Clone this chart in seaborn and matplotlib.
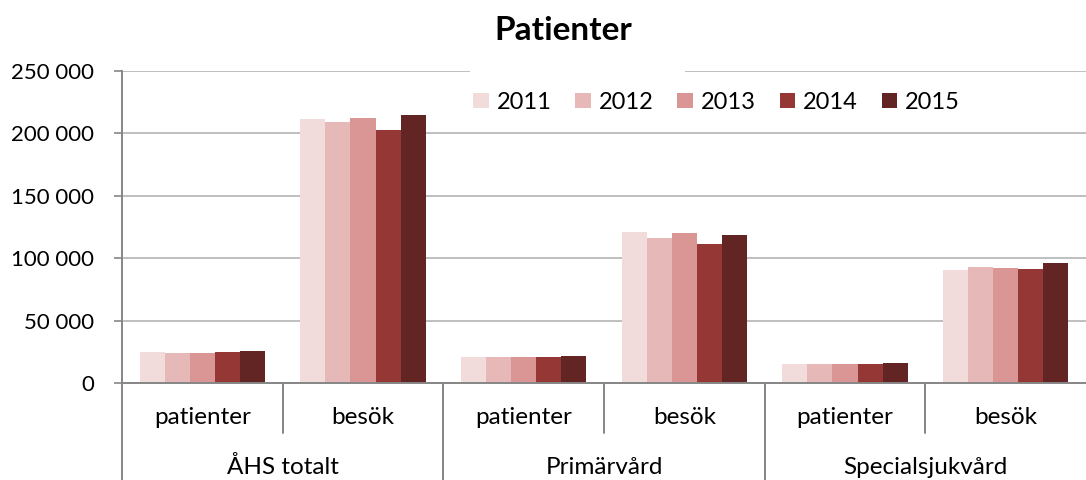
import pandas as pd
import matplotlib.pyplot as plt
from matplotlib.patches import Rectangle
from matplotlib.ticker import FuncFormatter
import seaborn as sns

# data
years = ["2011", "2012", "2013", "2014", "2015"]
groups = ["ÅHS totalt", "Primärvård", "Specialsjukvård"]
measures = ["patienter", "besök"]
v2011 = [24600, 211300, 21100, 121000, 15000, 90500]
v2012 = [24400, 208900, 20900, 116200, 15000, 92900]
v2013 = [24400, 212100, 20800, 120200, 15000, 92100]
v2014 = [24500, 202500, 20600, 111400, 15000, 91100]
v2015 = [25300, 214500, 21600, 118600, 15800, 95900]
colors = ["#F2DCDB", "#E6B9B8", "#D99694", "#953735", "#632523"]

cats = [g + "|" + m for g in groups for m in measures]
rows = []
for year, vals in zip(years, [v2011, v2012, v2013, v2014, v2015]):
    for cat, v in zip(cats, vals):
        rows.append({"kategori": cat, "år": year, "värde": v})
df = pd.DataFrame(rows)

sns.set_style("white")
plt.rcParams['font.family'] = ['Lato', 'DejaVu Sans']
plt.rcParams['text.color'] = 'black'

fig = plt.figure(figsize=(10.86, 4.8), dpi=100)
ax = fig.add_axes([0.1123, 0.202, 0.8877, 0.65])

sns.barplot(data=df, x="kategori", y="värde", hue="år", order=cats,
            hue_order=years, palette=colors, saturation=1, width=0.78,
            linewidth=0, errorbar=None, ax=ax)

ax.set_ylim(0, 250000)
ax.set_xlim(-0.5, len(cats) - 0.5)
ax.set_yticks(range(0, 250001, 50000))
ax.yaxis.set_major_formatter(FuncFormatter(lambda v, p: f"{int(v):,}".replace(",", " ")))
ax.grid(axis="y", color="#BFBFBF", linewidth=1.4)
ax.set_axisbelow(True)
ax.set_xlabel("")
ax.set_ylabel("")
ax.set_xticks([])
for s in ["top", "right"]:
    ax.spines[s].set_visible(False)
for s in ["left", "bottom"]:
    ax.spines[s].set_color("#868686")
    ax.spines[s].set_linewidth(1.4)
ax.tick_params(axis="y", which="major", left=True, length=6, width=1.2,
               color="#868686", pad=14, labelsize=16, labelcolor="black")

# multi-level category axis
trans = ax.get_xaxis_transform()
for i, cat in enumerate(cats):
    g, m = cat.split("|")
    ax.text(i, -0.112, m, transform=trans, ha="center", va="center", fontsize=17.5)
    bottom = -0.16 if i % 2 == 1 else -0.32
    ax.plot([i - 0.5, i - 0.5], [0, bottom], transform=trans, color="#868686",
            linewidth=1.4, clip_on=False)
for j, g in enumerate(groups):
    ax.text(2 * j + 0.5, -0.27, g, transform=trans, ha="center", va="center", fontsize=17.5)

leg = ax.legend(loc="center", bbox_to_anchor=(0.617, 0.9), ncol=5, frameon=False,
                fontsize=17, handlelength=0.65, handleheight=0.65,
                handletextpad=0.35, columnspacing=1.0)

# white box behind the title area, hides part of the top gridline
fig.add_artist(Rectangle((470 / 1086, 1 - 76 / 480), 215 / 1086, 10 / 480,
                         transform=fig.transFigure, facecolor="white",
                         edgecolor="none", zorder=5))
fig.text(0.519, 0.9375, "Patienter", ha="center", va="center",
         fontsize=24, fontweight="bold")

fig.savefig("out.png", dpi=100)
